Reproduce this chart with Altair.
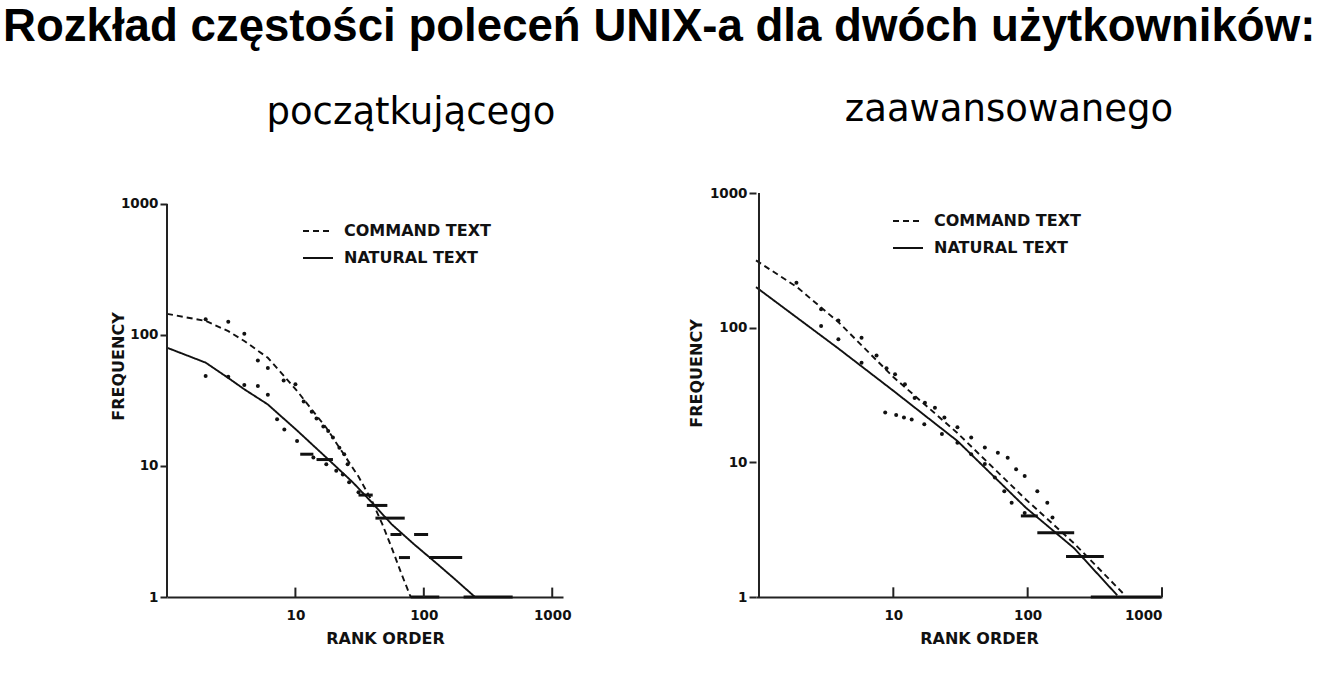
import altair as alt
import pandas as pd

TITLE = "Rozkład częstości poleceń UNIX-a dla dwóch użytkowników:"
SUB_L = "początkującego"
SUB_R = "zaawansowanego"
SERIES = ["COMMAND TEXT", "NATURAL TEXT"]
X_TICKS = [10, 100, 1000]
Y_TICKS = [1, 10, 100, 1000]

# ---- left panel (beginner) ----
L_CMD_X = [1, 2.0, 3.0, 4.0, 6.1, 8.1, 10.4, 13.8, 17.4, 23.4, 31, 39.5, 47.5, 56, 67, 79]
L_CMD_Y = [145, 128, 107, 90, 67, 49, 37, 26, 19.6, 12.6, 8.3, 5.4, 3.6, 2.4, 1.5, 1]
L_NAT_X = [1, 2.0, 3.0, 4.0, 6.1, 10.4, 17.4, 28, 39.5, 56, 85, 128, 182, 250]
L_NAT_Y = [80, 61.5, 47, 38.5, 29.5, 18.5, 11.6, 7.5, 5.25, 3.6, 2.5, 1.78, 1.32, 1]
L_CMD_DOT_X = [2.0, 3.0, 4.0, 5.1, 6.1, 8.1, 10, 11.6, 13.4, 14.6, 16.5, 18, 19.6, 22, 24, 25.5]
L_CMD_DOT_Y = [132, 126, 102, 64, 56, 45, 42, 31, 26, 23, 20, 18.5, 16.5, 13.8, 12.3, 10.3]
L_NAT_DOT_X = [2.0, 3.0, 4.0, 5.1, 6.1, 7.2, 8.2, 10.3, 13.8, 17.4, 20.8, 23.4, 26.2, 31]
L_NAT_DOT_Y = [48.6, 48, 41.5, 40.8, 35, 22.7, 19, 15.5, 11.6, 10.3, 9.2, 8.6, 7.5, 6.3]
L_RUN_X1 = [10.9, 14.6, 31, 36, 42, 55, 84, 64, 110, 79, 204]
L_RUN_X2 = [13.8, 19.6, 40, 52, 71, 67, 108, 78, 199, 132, 492]
L_RUN_Y = [12.3, 11.2, 6, 5, 4, 3, 3, 2, 2, 1, 1]

# ---- right panel (advanced) ----
R_CMD_X = [0.95, 1.92, 3.9, 10, 30, 97, 222, 520]
R_CMD_Y = [316, 200, 110, 43, 16.5, 5.3, 2.5, 1.05]
R_NAT_X = [0.95, 3.9, 10, 30, 97, 222, 464]
R_NAT_Y = [200, 70, 34, 14.4, 4.6, 2.3, 1.03]
R_CMD_DOT_X = [1.9, 2.9, 3.9, 5.8, 7.5, 8.9, 10.3, 12.2, 14.4, 17.2, 20.4, 24, 30, 38, 48, 60, 71, 82, 95, 118, 140, 153]
R_CMD_DOT_Y = [216, 137, 113, 84, 62, 50, 45, 38, 30, 27.7, 25.4, 21.5, 18.2, 15.3, 12.9, 11.8, 10.8, 8.9, 7.9, 6.1, 5.0, 3.9]
R_NAT_DOT_X = [2.9, 3.9, 5.8, 8.7, 10.5, 12, 13.7, 17, 23, 30, 38, 48, 57, 67, 76, 95]
R_NAT_DOT_Y = [103, 82, 55, 23.4, 22.5, 21.5, 20.8, 19.2, 16.2, 14, 11.5, 9.7, 7.7, 6.1, 5.0, 4.2]
R_RUN_X1 = [89, 118, 193, 295]
R_RUN_X2 = [119, 222, 369, 980]
R_RUN_Y = [4, 3, 2, 1]

FONT = "DejaVu Sans"
INK = "#111111"


def panel(cmd_x, cmd_y, nat_x, nat_y, cdx, cdy, ndx, ndy, rx1, rx2, ry,
          xdom, ydom, width, height, subtitle, sub_dx, sub_off,
          ytitle_x, ytitle_y, leg_x, leg_y):
    lines = pd.DataFrame({
        "x": cmd_x + nat_x,
        "y": cmd_y + nat_y,
        "series": [SERIES[0]] * len(cmd_x) + [SERIES[1]] * len(nat_x),
    })
    dots = pd.DataFrame({"x": cdx + ndx, "y": cdy + ndy})
    runs = pd.DataFrame({"x": rx1, "x2": rx2, "y": ry})
    ticks = pd.DataFrame({"x": X_TICKS, "y": [1] * 3, "y2": [1.18] * 3})
    yline = pd.DataFrame({"x": [1], "y": [1], "y2": [1000]})

    xs = alt.Scale(type="log", domain=xdom, nice=False)
    ys = alt.Scale(type="log", domain=ydom, nice=False)
    x_enc = alt.X("x:Q", scale=xs, axis=alt.Axis(
        values=X_TICKS, format="d", grid=False, domainColor="#222",
        domainWidth=2, ticks=True, tickSize=0, labelPadding=11,
        labelFont=FONT, labelFontWeight="bold", labelFontSize=13.5,
        labelColor=INK, title="RANK ORDER", titleFont=FONT,
        titleFontWeight="bold", titleFontSize=16, titleColor=INK,
        titleX=width / 2 + 20, titleY=41, titleBaseline="middle",
        titleAlign="center"))
    y_enc = alt.Y("y:Q", scale=ys, axis=alt.Axis(
        values=Y_TICKS, format="d", grid=False, domain=False,
        tickSize=7, tickWidth=2, tickColor="#222", labelPadding=2,
        labelFont=FONT, labelFontWeight="bold", labelFontSize=13.5,
        labelColor=INK, title="FREQUENCY", titleFont=FONT,
        titleFontWeight="bold", titleFontSize=16, titleColor=INK,
        titleAngle=270, titleX=ytitle_x, titleY=ytitle_y,
        titleBaseline="middle", titleAlign="center"))

    line_layer = alt.Chart(lines).mark_line(color=INK, strokeWidth=1.9).encode(
        x=x_enc, y=y_enc,
        strokeDash=alt.StrokeDash("series:N", scale=alt.Scale(
            domain=SERIES, range=[[6, 4], [1, 0]]), legend=alt.Legend(
            title=None, orient="none", legendX=leg_x, legendY=leg_y,
            padding=0, labelFont=FONT, labelFontWeight="bold",
            labelFontSize=16, labelColor=INK, labelOffset=10,
            symbolType="stroke", symbolSize=900, symbolStrokeWidth=1.9,
            symbolStrokeColor=INK, rowPadding=3)),
        order="x:Q")
    dot_layer = alt.Chart(dots).mark_circle(color=INK, size=16, opacity=1).encode(
        x=x_enc, y=y_enc)
    run_layer = alt.Chart(runs).mark_rule(color=INK, strokeWidth=3).encode(
        x=x_enc, x2="x2:Q", y=y_enc)
    tick_layer = alt.Chart(ticks).mark_rule(color="#222", strokeWidth=2).encode(
        x=x_enc, y=y_enc, y2="y2:Q")
    yline_layer = alt.Chart(yline).mark_rule(color="#222", strokeWidth=2).encode(
        x=x_enc, y=y_enc, y2="y2:Q")

    return alt.layer(line_layer, dot_layer, run_layer, tick_layer, yline_layer).properties(
        width=width, height=height,
        title=alt.TitleParams(subtitle, font=FONT, fontSize=37,
                              fontWeight="normal", color="black",
                              baseline="alphabetic", frame="group",
                              offset=sub_off, anchor="middle", dx=sub_dx))


left = panel(L_CMD_X, L_CMD_Y, L_NAT_X, L_NAT_Y, L_CMD_DOT_X, L_CMD_DOT_Y,
             L_NAT_DOT_X, L_NAT_DOT_Y, L_RUN_X1, L_RUN_X2, L_RUN_Y,
             [1, 1213], [1, 1213], 396, 404, SUB_L, 46, 32, -49, 173, 135, 22)
right = panel(R_CMD_X, R_CMD_Y, R_NAT_X, R_NAT_Y, R_CMD_DOT_X, R_CMD_DOT_Y,
              R_NAT_DOT_X, R_NAT_DOT_Y, R_RUN_X1, R_RUN_X2, R_RUN_Y,
              [0.95, 1000], [1, 1000], 406, 404, SUB_R, 50, 28, -60, 180, 136, 12)

chart = alt.hconcat(left, right, spacing=116).resolve_scale(
    x="independent", y="independent", strokeDash="independent"
).resolve_legend(strokeDash="independent").properties(
    title=alt.TitleParams(TITLE, font="Liberation Sans", fontSize=45.6,
                          fontWeight="bold", color="black", anchor="start",
                          dx=-107, offset=40),
    padding={"left": 3, "top": 5, "right": 12, "bottom": 0},
    background="white",
).configure_view(stroke=None)

chart.save("out.html", embed_options={"renderer": "svg", "actions": False})
